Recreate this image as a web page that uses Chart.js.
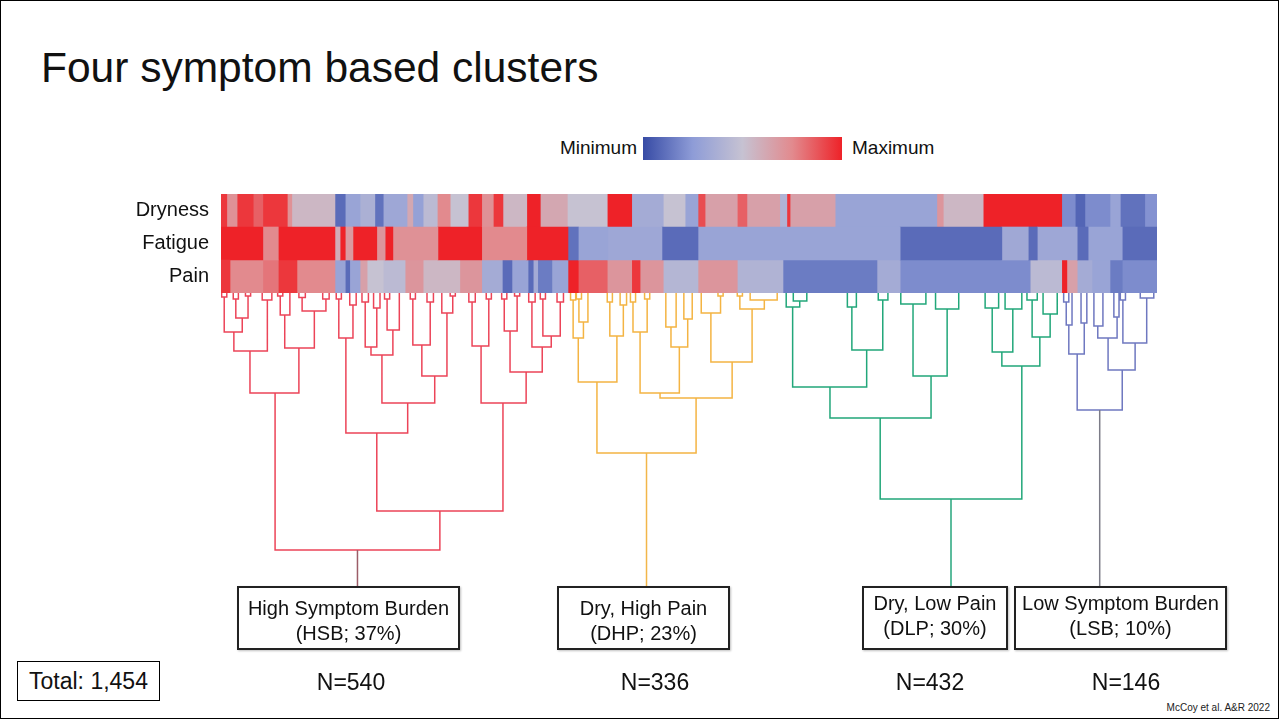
<!DOCTYPE html>
<html>
<head>
<meta charset="utf-8">
<title>Four symptom based clusters</title>
<script src="https://cdn.jsdelivr.net/npm/chart.js@4.4.1/dist/chart.umd.min.js"></script>
<style>
  html, body { margin: 0; padding: 0; background: #fff; }
  #slide { position: relative; width: 1279px; height: 719px; overflow: hidden;
           font-family: 'Liberation Sans', Arial, sans-serif; color: #111; background: #fff; }
  #frame { position: absolute; left: 0; top: 0; width: 1279px; height: 719px; box-sizing: border-box;
           border: 1px solid #000; pointer-events: none; }
  .abs { position: absolute; white-space: nowrap; }
  #title { left: 41px; top: 46px; font-size: 42.5px; line-height: 43px; }
  .legendText { font-size: 19px; line-height: 24px; top: 136px; }
  #legMin { left: 537px; width: 100px; text-align: right; }
  #legMax { left: 852px; }
  #colorbar { left: 643px; top: 137px; width: 199px; height: 23px; }
  #heatWrap { left: 100px; top: 194px; width: 1057px; height: 99px; }
  #dendroWrap { left: 221px; top: 293px; width: 936px; height: 300px; }
  .clusterBox { box-sizing: border-box; border: 2px solid #222; background: #fff; text-align: center;
                font-size: 20px; line-height: 25px; top: 586px; height: 64px;
                box-shadow: 1px 1px 2px rgba(0,0,0,0.25); }
  .nLabel { font-size: 23px; line-height: 28px; top: 668px; width: 120px; text-align: center; }
  #totalBox { left: 17px; top: 661px; width: 143px; height: 40px; box-sizing: border-box;
              border: 1px solid #000; font-size: 23px; line-height: 38px; text-align: center; }
  #credit { right: 9px; top: 702px; font-size: 10px; line-height: 12px; color: #222; }
</style>
</head>
<body>
<div id="slide">
  <div id="title" class="abs">Four symptom based clusters</div>
  <div id="legMin" class="abs legendText">Minimum</div>
  <div id="colorbar" class="abs"></div>
  <div id="legMax" class="abs legendText">Maximum</div>
  <div id="heatWrap" class="abs"><canvas id="heat"></canvas></div>
  <div id="dendroWrap" class="abs"><canvas id="dendro"></canvas></div>
  <div id="boxes"></div>
  <div id="totalBox" class="abs"></div>
  <div id="credit" class="abs">McCoy et al. A&amp;R 2022</div>
  <div id="frame"></div>
</div>
<script>
// ---------- data ----------
const symptoms = ['Dryness', 'Fatigue', 'Pain'];
const totalPatients = 1454;

// Heatmap runs per symptom, patients ordered by the dendrogram:
// [index where the run ends, relative score 0 (minimum) .. 1 (maximum)]
const drynessRuns = [
  [9, 0.95], [25, 0.72], [50, 0.95], [65, 0.85], [103, 0.95], [110, 0.72], [177, 0.55],
  [193, 0.1], [216, 0.3], [239, 0.38], [252, 0.12], [289, 0.32], [298, 0.62], [314, 0.28],
  [336, 0.45], [356, 0.75], [384, 0.5], [405, 0.95], [423, 0.72], [438, 0.95], [475, 0.55],
  [496, 1], [538, 0.62], [600, 0.5], [638, 1], [687, 0.35], [721, 0.5], [741, 0.3],
  [752, 0.9], [802, 0.65], [817, 0.85], [868, 0.65], [879, 0.4], [884, 0.95], [954, 0.65],
  [1112, 0.3], [1122, 0.7], [1184, 0.55], [1306, 1], [1327, 0.2], [1342, 0.08], [1381, 0.2],
  [1397, 0.3], [1435, 0.12], [1454, 0.22]
];
const fatigueRuns = [
  [65, 1], [89, 0.75], [177, 1], [185, 0.6], [193, 1], [205, 0.68], [242, 1], [255, 0.7],
  [267, 1], [337, 0.72], [405, 1], [475, 0.75], [539, 1], [555, 0.12], [601, 0.3],
  [685, 0.32], [741, 0.1], [1055, 0.3], [1213, 0.1], [1254, 0.33], [1268, 0.1], [1330, 0.32],
  [1347, 0.1], [1400, 0.3], [1454, 0.1]
];
const painRuns = [
  [14, 0.95], [65, 0.75], [89, 0.8], [118, 0.95], [177, 0.75], [193, 0.3], [200, 0.1],
  [216, 0.3], [227, 0.65], [252, 0.5], [286, 0.45], [314, 0.7], [371, 0.55], [405, 0.7],
  [437, 0.35], [452, 0.1], [477, 0.3], [485, 0.1], [492, 0.35], [514, 0.15], [539, 0.3],
  [555, 1], [600, 0.85], [638, 0.7], [651, 0.95], [687, 0.7], [741, 0.42], [802, 0.7],
  [873, 0.4], [1019, 0.15], [1055, 0.35], [1257, 0.2], [1306, 0.45], [1314, 1], [1330, 0.65],
  [1353, 0.35], [1381, 0.3], [1400, 0.15], [1454, 0.2]
];

// Dendrogram merges: [left child position, right child position, merge height,
//                     left child height, right child height]
const hsbLinks = [
  [84, 340, 85.7, 33.3, 72.7], [45, 121, 33.3, 19.3, 18.3], [20, 72, 19.3, 13, 2.3],
  [5, 33, 13, 1.3, 8.3], [23, 42, 8.3, 2, 1], [99, 145, 18.3, 7.3, 6], [126, 163, 6, 1.5, 2],
  [92, 107, 7.3, 1, 0], [64, 79, 2.3, 0, 0], [242, 438, 72.7, 46.7, 36.7],
  [194, 290, 46.7, 15, 36.7], [183, 205, 15, 2, 4], [250, 332, 36.7, 20.7, 27.7],
  [233, 267, 20.7, 18, 12.3], [224, 242, 18, 3, 5], [258, 277, 12.3, 2, 0],
  [312, 351, 27.7, 17.3, 6.7], [298, 325, 17.3, 2, 3], [343, 360, 6.7, 0, 1],
  [404, 474, 36.7, 17.7, 26.3], [390, 416, 17.7, 3, 2], [449, 499, 26.3, 12.7, 18],
  [440, 460, 12.7, 2, 1], [483, 513, 18, 3, 14.3], [500, 527, 14.3, 2, 3],
  [1, 9, 1.3, 0, 0], [19, 27, 2, 0, 0], [38, 46, 1, 0, 0], [121, 131, 1.5, 0, 0],
  [158, 168, 2, 0, 0], [88, 96, 1, 0, 0], [179, 187, 2, 0, 0], [200, 210, 4, 0, 0],
  [219, 229, 3, 0, 0], [237, 247, 5, 0, 0], [254, 262, 2, 0, 0], [294, 302, 2, 0, 0],
  [320, 330, 3, 0, 0], [356, 364, 1, 0, 0], [385, 395, 3, 0, 0], [412, 420, 2, 0, 0],
  [436, 444, 2, 0, 0], [456, 464, 1, 0, 0], [478, 488, 3, 0, 0], [496, 504, 2, 0, 0],
  [522, 532, 3, 0, 0]
];
const dhpLinks = [
  [584, 738, 53.3, 29.7, 35], [555, 615, 29.7, 15, 14.3], [547, 563, 15, 2.3, 9.7],
  [556, 570, 9.7, 2, 0], [604, 625, 14.3, 3, 4], [682, 794, 35, 33.3, 23],
  [651, 712, 33.3, 13, 18], [640, 662, 13, 3, 2], [699, 725, 18, 11.3, 8.7],
  [691, 707, 11.3, 0, 0], [719, 732, 8.7, 0, 0], [761, 825, 23, 6.7, 5.3],
  [746, 776, 6.7, 0, 1], [806, 844, 5.3, 1, 2.3], [822, 864, 2.3, 0, 0],
  [543, 551, 2.3, 0, 0], [552, 560, 2, 0, 0], [600, 608, 3, 0, 0], [620, 630, 4, 0, 0],
  [636, 644, 3, 0, 0], [658, 666, 2, 0, 0], [772, 780, 1, 0, 0], [802, 810, 1, 0, 0]
];
const dlpLinks = [
  [1024, 1244, 68.7, 41.7, 24.3], [946, 1103, 41.7, 31.3, 27.7], [888, 1003, 31.3, 4.7, 19],
  [878, 899, 4.7, 0, 2.7], [889, 910, 2.7, 0, 0], [980, 1028, 19, 4.7, 2.3],
  [973, 987, 4.7, 0, 0], [1021, 1036, 2.3, 0, 0], [1075, 1128, 27.7, 3.7, 5.3],
  [1056, 1095, 3.7, 0, 0], [1110, 1146, 5.3, 0, 0], [1213, 1272, 24.3, 19.7, 14.7],
  [1198, 1230, 19.7, 5, 5.3], [1187, 1208, 5, 0, 0], [1218, 1244, 5.3, 0, 0],
  [1260, 1288, 14.7, 2.3, 7], [1252, 1268, 2.3, 0, 0], [1277, 1299, 7, 0, 0]
];
const lsbLinks = [
  [1330, 1400, 39, 20.3, 25.7], [1317, 1341, 20.3, 10.7, 10], [1313, 1322, 10.7, 3, 0],
  [1336, 1345, 10, 0, 0], [1378, 1420, 25.7, 15, 16.7], [1362, 1392, 15, 11, 8],
  [1356, 1370, 11, 0, 0], [1387, 1395, 8, 0, 0], [1401, 1438, 16.7, 2.3, 1.7],
  [1428, 1449, 1.7, 0, 0], [1397, 1405, 2.3, 0, 0], [1309, 1317, 3, 0, 0]
];

// Cluster summary
const clusterNames = ['High Symptom Burden', 'Dry, High Pain', 'Dry, Low Pain', 'Low Symptom Burden'];
const clusterCodes = ['HSB', 'DHP', 'DLP', 'LSB'];
const clusterPct = [37, 23, 30, 10];
const clusterN = [540, 336, 432, 146];

// ---------- styling ----------
const FONT = "'Liberation Sans', Arial, sans-serif";
const clusterLine = ['#ec4458', '#f4b443', '#22a77a', '#6f78c0'];
const clusterStem = ['#9c5d68', '#f2b64a', '#27a67d', '#7c7c88'];
const colorStops = [
  [0, [55, 75, 165]], [0.25, [142, 156, 215]], [0.5, [198, 194, 210]],
  [0.75, [226, 138, 142]], [1, [238, 34, 40]]
];
function scoreColor(v) {
  for (let i = 1; i < colorStops.length; i++) {
    const [p1, c1] = colorStops[i];
    const [p0, c0] = colorStops[i - 1];
    if (v <= p1) {
      const t = (v - p0) / (p1 - p0);
      const c = c0.map((a, k) => Math.round(a + (c1[k] - a) * t));
      return `rgb(${c[0]},${c[1]},${c[2]})`;
    }
  }
  const c = colorStops[colorStops.length - 1][1];
  return `rgb(${c[0]},${c[1]},${c[2]})`;
}

// colour key
document.getElementById('colorbar').style.background =
  'linear-gradient(to right,' + colorStops.map(([p]) => `${scoreColor(p)} ${p * 100}%`).join(',') + ')';

// ---------- heatmap ----------
const rows = [drynessRuns, fatigueRuns, painRuns].map(runs => {
  let start = 0;
  return runs.map(([end, v]) => { const seg = { from: start, to: end, v }; start = end; return seg; });
});
const nSeg = Math.max(...rows.map(r => r.length));
const heatSets = [];
for (let i = 0; i < nSeg; i++) {
  heatSets.push({
    data: rows.map(r => (r[i] ? [r[i].from, r[i].to] : null)),
    backgroundColor: rows.map(r => (r[i] ? scoreColor(r[i].v) : 'rgba(0,0,0,0)')),
    borderWidth: 0,
    grouped: false,
    barPercentage: 1,
    categoryPercentage: 1
  });
}
new Chart(document.getElementById('heat'), {
  type: 'bar',
  data: { labels: symptoms, datasets: heatSets },
  options: {
    indexAxis: 'y',
    animation: false,
    responsive: true,
    maintainAspectRatio: false,
    layout: { padding: 0 },
    scales: {
      x: { type: 'linear', min: 0, max: totalPatients, display: false },
      y: {
        grid: { display: false, drawTicks: false },
        border: { display: false },
        ticks: { color: '#111', padding: 12, font: { family: FONT, size: 20 } },
        afterFit: s => { s.width = 121; s.paddingTop = 0; s.paddingBottom = 0; }
      }
    },
    plugins: { legend: { display: false }, tooltip: { enabled: false } }
  }
});

// ---------- dendrogram ----------
function linkPath(links) {
  const pts = [];
  links.forEach(([a, b, h, ha, hb]) => {
    pts.push({ x: a, y: ha }, { x: a, y: h }, { x: b, y: h }, { x: b, y: hb }, { x: b, y: null });
  });
  return pts;
}
const stemEnd = 97.7;
const allLinks = [hsbLinks, dhpLinks, dlpLinks, lsbLinks];
const dendroSets = [];
allLinks.forEach((links, i) => {
  const root = links[0];
  const mid = (root[0] + root[1]) / 2;
  dendroSets.push({
    data: [{ x: mid, y: root[2] }, { x: mid, y: stemEnd }],
    borderColor: clusterStem[i], borderWidth: 1.5
  });
  dendroSets.push({
    data: linkPath(links),
    borderColor: clusterLine[i], borderWidth: 1.5
  });
});
new Chart(document.getElementById('dendro'), {
  type: 'line',
  data: { datasets: dendroSets.map(d => Object.assign({ clip: 4, spanGaps: false, pointRadius: 0, tension: 0 }, d)) },
  options: {
    animation: false,
    responsive: true,
    maintainAspectRatio: false,
    layout: { padding: 0 },
    scales: {
      x: { type: 'linear', min: 0, max: totalPatients, display: false },
      y: { type: 'linear', min: 0, max: 100, reverse: true, display: false }
    },
    plugins: { legend: { display: false }, tooltip: { enabled: false } }
  }
});

// ---------- cluster labels ----------
const boxGeom = [
  { left: 237, width: 223, pad: 8, n: 351 },
  { left: 557, width: 173, pad: 8, n: 655 },
  { left: 862, width: 146, pad: 3, n: 930 },
  { left: 1014, width: 213, pad: 3, n: 1126 }
];
const boxes = document.getElementById('boxes');
clusterNames.forEach((name, i) => {
  const g = boxGeom[i];
  const box = document.createElement('div');
  box.className = 'abs clusterBox';
  box.style.left = g.left + 'px';
  box.style.width = g.width + 'px';
  box.style.paddingTop = g.pad + 'px';
  box.innerHTML = `${name}<br>(${clusterCodes[i]}; ${clusterPct[i]}%)`;
  boxes.appendChild(box);
  const n = document.createElement('div');
  n.className = 'abs nLabel';
  n.style.left = (g.n - 60) + 'px';
  n.textContent = 'N=' + clusterN[i];
  boxes.appendChild(n);
});
document.getElementById('totalBox').textContent = 'Total: ' + totalPatients.toLocaleString('en-US');
</script>
</body>
</html>
